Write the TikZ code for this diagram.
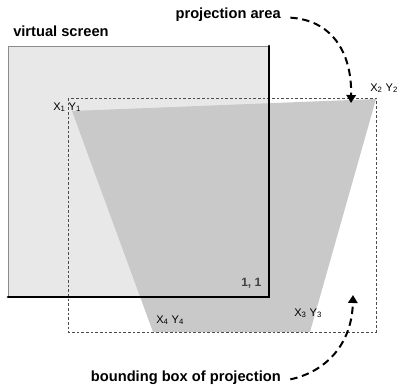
\documentclass[tikz,border=0pt]{standalone}
\usepackage{fontspec}
\setmainfont{Liberation Sans}
\usetikzlibrary{arrows.meta}
\tikzset{title/.style={font=\fontsize{11}{13}\selectfont\bfseries, inner sep=0pt}}
\tikzset{corner/.style={font=\fontsize{8.3}{9}\selectfont, inner sep=0pt}}
\tikzset{pointer/.style={line width=1.5pt, dash pattern=on 5.5pt off 3.5pt, -{Triangle[length=6pt,width=7pt]}}}
\tikzset{bbox/.style={draw=black!70, line width=0.5pt, dash pattern=on 2pt off 1.5pt}}

\begin{document}
\begin{tikzpicture}[x=0.75pt, y=-0.75pt]
        \useasboundingbox (0,0) rectangle (399,385);

        % virtual screen
        \coordinate (s1) at (8,46);
        \coordinate (s2) at (269,46);
        \coordinate (s3) at (269,297);
        \coordinate (s4) at (8,297);
        \fill[black!9] (s1) rectangle (s3);

        % projection area
        \coordinate (p1) at (72,111);
        \coordinate (p2) at (376,99);
        \coordinate (p3) at (310,332);
        \coordinate (p4) at (153,332);
        \fill[black!21] (p1) -- (p2) -- (p3) -- (p4) -- cycle;

        % bounding box of projection
        \draw[bbox] (68,98) rectangle (376,332);

        \draw[black!45, line width=0.6pt] (s4) -- (s1) -- (s2);
        \draw[black, line width=2pt, line cap=round] (s2) -- (s3) -- (s4);

        \node[title, anchor=west] (vs) at (13,31) {virtual screen};
        \node[title, anchor=east] (pa) at (281,15) {projection area};
        \node[title, anchor=east] (bb) at (281,378) {bounding box of projection};

        \node[corner, anchor=base west] (c1) at (53,110) {X\textsubscript{1} Y\textsubscript{1}};
        \node[corner, anchor=base west] (c2) at (370,91) {X\textsubscript{2} Y\textsubscript{2}};
        \node[corner, anchor=base west] (c3) at (294,316) {X\textsubscript{3} Y\textsubscript{3}};
        \node[corner, anchor=base west] (c4) at (156,323) {X\textsubscript{4} Y\textsubscript{4}};
        \node[corner, anchor=base west, font=\fontsize{9}{10}\selectfont\bfseries, text=black!75] (one) at (241,286) {1, 1};

        \coordinate (tipa) at (351,103);
        \coordinate (tipb) at (353,295);
        \draw[pointer] ([xshift=7pt,yshift=-2pt]pa.east) .. controls (330,20) and (352,50) .. (tipa);
        \draw[pointer] ([xshift=7pt,yshift=-1pt]bb.east) .. controls (325,372) and (352,345) .. (tipb);
\end{tikzpicture}
\end{document}
